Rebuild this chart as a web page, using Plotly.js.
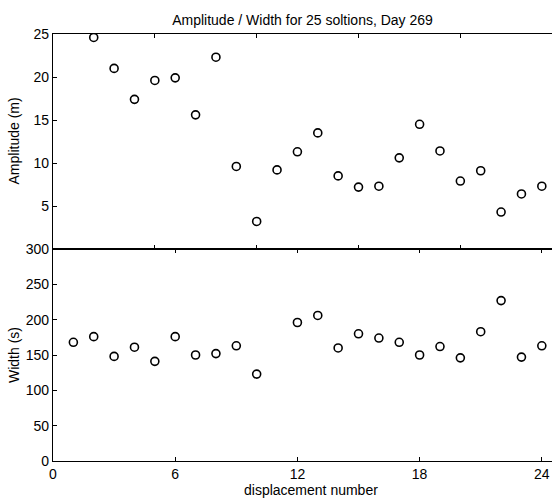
<!DOCTYPE html>
<html>
<head>
<meta charset="utf-8">
<script src="https://cdn.plot.ly/plotly-3.0.1.min.js"></script>
<style>html,body{margin:0;padding:0;background:#fff;}#chart{width:552px;height:499px;}</style>
</head>
<body>
<div id="chart"></div>
<script>
// Amplitude (top panel)
const ampX = [2,3,4,5,6,7,8,9,10,11,12,13,14,15,16,17,18,19,20,21,22,23,24];
const ampY = [24.6,21.0,17.4,19.6,19.9,15.6,22.3,9.6,3.2,9.2,11.3,13.5,8.5,7.2,7.3,10.6,14.5,11.4,7.9,9.1,4.3,6.4,7.3];
// Width (bottom panel)
const widX = [1,2,3,4,5,6,7,8,9,10,12,13,14,15,16,17,18,19,20,21,22,23,24];
const widY = [168,176,148,161,141,176,150,152,163,123,196,206,160,180,174,168,150,162,146,183,227,147,163];
// Tick labels
const ampTicks = [5,10,15,20,25];
const widTicks = [0,50,100,150,200,250,300];
const xTopTicks = [5,10,15,20];
const xBotTicks = [0,6,12,18,24];

const mk = {symbol:'circle-open', size:8, color:'#000', line:{width:1.6,color:'#000'}};
const data = [
  {x: ampX, y: ampY, type:'scatter', mode:'markers', marker: mk, xaxis:'x', yaxis:'y', showlegend:false},
  {x: widX, y: widY, type:'scatter', mode:'markers', marker: mk, xaxis:'x2', yaxis:'y2', showlegend:false}
];
const split = 212/427;
const axBase = {showline:true, linecolor:'#000', linewidth:1.2, showgrid:false, zeroline:false,
  ticks:'inside', ticklen:4, tickcolor:'#000', tickwidth:1,
  tickfont:{family:'Liberation Sans, Arial, sans-serif', size:14, color:'#000'}};
const layout = {
  width:552, height:499,
  margin:{l:53, r:0, t:34, b:38},
  paper_bgcolor:'#fff', plot_bgcolor:'#fff',
  font:{family:'Liberation Sans, Arial, sans-serif', color:'#000'},
  title:{text:'Amplitude / Width for 25 soltions, Day 269', font:{size:14, color:'#000'}, x:0.5, xref:'paper', xanchor:'center', y:0.96, yref:'container', yanchor:'middle'},
  xaxis: Object.assign({}, axBase, {anchor:'y', domain:[0,1], range:[0,24.5], tickmode:'array', tickvals:xTopTicks, showticklabels:false, mirror:'ticks'}),
  yaxis: Object.assign({}, axBase, {anchor:'x', domain:[split,1], range:[0,25], tickmode:'array', tickvals:ampTicks, mirror:true}),
  xaxis2: Object.assign({}, axBase, {anchor:'y2', domain:[0,1], range:[0,24.5], tickmode:'array', tickvals:xBotTicks, mirror:'ticks'}),
  yaxis2: Object.assign({}, axBase, {anchor:'x2', domain:[0,split], range:[0,300], tickmode:'array', tickvals:widTicks, mirror:true}),
  annotations:[
    {text:'displacement number', xref:'paper', yref:'paper', x:0.5, y:0, xanchor:'center', yanchor:'bottom', xshift:8, yshift:-39, showarrow:false, font:{size:14, color:'#000'}},
    {text:'Amplitude (m)', xref:'paper', yref:'paper', x:0, y:(1+split)/2, xanchor:'center', yanchor:'middle', xshift:-39, textangle:-90, showarrow:false, font:{size:14, color:'#000'}},
    {text:'Width (s)', xref:'paper', yref:'paper', x:0, y:split/2, xanchor:'center', yanchor:'middle', xshift:-39, textangle:-90, showarrow:false, font:{size:14, color:'#000'}}
  ]
};
Plotly.newPlot('chart', data, layout, {displayModeBar:false, staticPlot:true});
</script>
</body>
</html>
